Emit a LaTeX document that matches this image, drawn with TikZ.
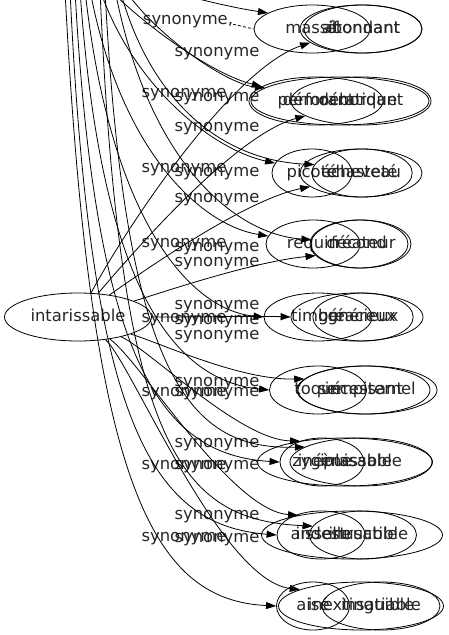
\documentclass[tikz,border=0pt]{standalone}
\usepackage{fontspec}
\newfontfamily\dotfont{DejaVu Sans}
\usetikzlibrary{shapes.geometric, arrows.meta}

\tikzset{
  word/.style={ellipse, draw, line width=0.8pt, inner sep=0pt, minimum height=48pt,
    text height=12pt, text depth=3.5pt, text=black!85, font=\dotfont\fontsize{16.4}{19}\selectfont},
  tag/.style={inner sep=0pt, text height=12pt, text depth=3.5pt, text=black!85,
    font=\dotfont\fontsize{16.4}{19}\selectfont},
  link/.style={-{Triangle[length=10pt,width=7pt]}, line width=0.8pt},
}

\begin{document}
\begin{tikzpicture}[x=1pt, y=-1pt]
  \useasboundingbox (0,0) rectangle (449,635);
  \clip (0,0) rectangle (449,635);
  \node[word, minimum width=147pt] (main) at (78,317) {intarissable};
  % one row: left word, then two words drawn over it
  \foreach \r/\y/\la/\lx/\lw/\pa/\px/\pw/\qa/\qx/\qw in {
    1/29/massif/312/116/abondant/361/122/étonnant/363/118,
    2/101/perforant/316/134/débordant/361/140/démocratique/340/178,
    3/173/picoté/312/80/écheveau/361/122/chasteté/362/92,
    4/244/requin/313/94/fécond/359/98/créateur/361/100,
    5/317/timbré/318/108/généreux/357/132/gracieux/363/98,
    6/390/toqué/318/97/sempiternel/367/140/incessant/364/132,
    7/462/zygène/322/84/inépuisable/345/175/inlassable/361/142,
    8/535/aisselle/321/88/indestructible/352/181/inusable/363/107,
    9/606/aisé/313/73/inextinguible/361/165/insatiable/381/118} {
    \node[word, minimum width=\lw pt] (l\r) at (\lx,\y) {\la};
    \node[word, minimum width=\pw pt] (p\r) at (\px,\y) {\pa};
    \node[word, minimum width=\qw pt] (q\r) at (\qx,\y) {\qa};
  }

  \node[tag] (s0) at (188,20) {synonyme,};
  \foreach \x/\y [count=\i] in {217/52, 184/93, 217/97, 217/127, 184/168, 217/172,
    217/198, 184/243, 217/247, 217/262, 217/305, 184/318, 217/320, 217/335,
    217/382, 184/392, 217/392, 217/443, 184/465, 217/465, 217/515, 184/537, 217/538}
    \node[tag] (s\i) at (\x,\y) {synonyme};
  \draw[densely dashed, line width=0.8pt] (s0.base east) -- (l1.west);

  % from intarissable
  \foreach \r/\ax/\ay/\bx/\by/\ang in {1/125/230/230/70/195, 2/135/250/235/135/195,
    3/145/270/245/200/195, 4/155/295/250/262/195, 5/200/317/260/316/180,
    6/165/345/240/380/170, 7/150/350/240/440/155, 8/140/360/230/510/160,
    9/130/360/220/580/165}
    \draw[link] (main) .. controls (\ax,\ay) and (\bx,\by) .. (p\r.\ang);

  % from above the picture
  \foreach \r/\sx/\ax/\ay/\bx/\by/\ang in {1/165/200/0/235/8/160, 2/110/150/30/215/75/165,
    3/100/135/90/215/150/165, 4/90/120/150/200/225/170, 5/85/110/220/190/310/180,
    6/80/100/280/170/380/180, 7/75/95/360/160/455/180, 8/70/90/420/150/525/180,
    9/65/90/480/150/600/180} {
    \coordinate (t\r) at (\sx,-10);
    \draw[link] (t\r) .. controls (\ax,\ay) and (\bx,\by) .. (l\r.\ang);
  }
  \foreach \r/\sx/\ax/\ay/\bx/\by/\ang in {2/125/160/40/230/85/170, 3/120/150/100/220/160/170,
    4/115/150/170/240/235/175, 7/105/125/380/190/450/165, 8/100/120/450/180/520/170} {
    \coordinate (u\r) at (\sx,-10);
    \draw[link] (u\r) .. controls (\ax,\ay) and (\bx,\by) .. (q\r.\ang);
  }
\end{tikzpicture}
\end{document}
